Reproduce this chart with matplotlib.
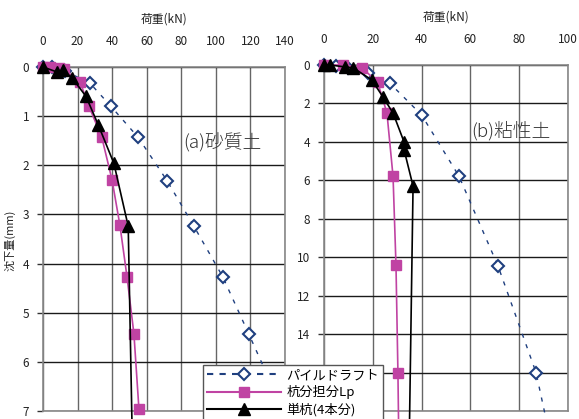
import matplotlib
matplotlib.use("Agg")
import matplotlib.pyplot as plt
from matplotlib.lines import Line2D

plt.rcParams['font.family'] = ['Noto Sans CJK JP', 'DejaVu Sans']

# (a) 砂質土 : load (kN) vs settlement (mm)
sand_raft_load = [0, 5, 12.7, 27.2, 39.3, 55.0, 71.7, 87.3, 104.0, 119.0, 134.0]
sand_raft_set = [0, 0.0, 0.08, 0.33, 0.80, 1.43, 2.31, 3.24, 4.27, 5.43, 6.60]
sand_pile_load = [0, 4, 9, 12, 21.4, 26.6, 34.0, 39.9, 44.5, 48.6, 52.6, 55.5]
sand_pile_set = [0, 0, 0.02, 0.05, 0.30, 0.80, 1.43, 2.29, 3.22, 4.27, 5.43, 6.96]
sand_single_load = [0, 8, 11.6, 16.8, 24.9, 32.0, 41.0, 49.3, 51.5]
sand_single_set = [0, 0.10, 0.07, 0.22, 0.60, 1.18, 1.96, 3.24, 7.30]

# (b) 粘性土
clay_raft_load = [0, 5, 10, 18, 27.0, 40.0, 55.3, 71.3, 86.9, 92.0]
clay_raft_set = [0, 0.05, 0.15, 0.40, 0.95, 2.60, 5.78, 10.45, 16.0, 19.0]
clay_pile_load = [0, 7.8, 15.6, 22.0, 25.8, 28.3, 29.5, 30.3, 30.6]
clay_pile_set = [0, 0, 0.15, 0.90, 2.50, 5.80, 10.40, 16.0, 19.0]
clay_single_load = [0, 2.5, 8.6, 12.0, 19.6, 24.2, 28.3, 32.8, 32.8, 36.5, 35.0]
clay_single_set = [0, 0, 0.10, 0.15, 0.78, 1.67, 2.50, 4.00, 4.40, 6.30, 19.0]

labels = ['パイルドラフト', '杭分担分Lp', '単杭(4本分)']
navy = '#1f3f7f'
magenta = '#c043a3'

W, H = 579, 419
fig = plt.figure(figsize=(W / 100, H / 100), dpi=100)

ax_a = fig.add_axes([43 / W, 1 - 411 / H, 242 / W, 344 / H])
ax_b = fig.add_axes([324 / W, 1 - 411 / H, 244 / W, 346 / H])


def style_axes(ax, xmax, xstep, ymax, ystep, hidden_ylabels=()):
    ax.set_xlim(0, xmax)
    ax.set_ylim(ymax, 0)
    ax.set_xticks(range(0, xmax + 1, xstep))
    yt = list(range(0, ymax + 1, ystep))
    ax.set_yticks(yt)
    ax.set_yticklabels(['' if v in hidden_ylabels else str(v) for v in yt])
    ax.xaxis.tick_top()
    ax.tick_params(axis='x', length=0, labelsize=8.5, pad=14, colors='#222222')
    ax.tick_params(axis='y', length=4, width=1, labelsize=8.5, pad=6,
                   color='#333333', colors='#222222')
    ax.grid(axis='x', color='#666666', linewidth=1.0)
    ax.grid(axis='y', color='#1a1a1a', linewidth=1.0)
    ax.set_axisbelow(True)
    for s in ax.spines.values():
        s.set_color('#888888')
        s.set_linewidth(1.2)
    ax.set_xlabel('荷重(kN)', fontsize=8.5, labelpad=9, color='#222222')
    ax.xaxis.set_label_position('top')


def draw_series(ax, raft_x, raft_y, pile_x, pile_y, single_x, single_y):
    ax.plot(raft_x, raft_y, color=navy, linewidth=1.0, linestyle=(0, (3, 5)),
            marker='D', markersize=6, markerfacecolor='white',
            markeredgecolor=navy, markeredgewidth=1.5, clip_on=False, zorder=3)
    ax.plot(pile_x, pile_y, color=magenta, linewidth=1.2, marker='s',
            markersize=7, markerfacecolor=magenta, markeredgecolor=magenta,
            clip_on=False, zorder=4)
    ax.plot(single_x, single_y, color='black', linewidth=1.2, marker='^',
            markersize=8, markerfacecolor='black', markeredgecolor='black',
            clip_on=False, zorder=5)


style_axes(ax_a, 140, 20, 7, 1)
# the lowest settlement labels of (b) sit under the legend box
style_axes(ax_b, 100, 20, 18, 2, hidden_ylabels=(16, 18))

draw_series(ax_a, sand_raft_load, sand_raft_set, sand_pile_load, sand_pile_set,
            sand_single_load, sand_single_set)
draw_series(ax_b, clay_raft_load, clay_raft_set, clay_pile_load, clay_pile_set,
            clay_single_load, clay_single_set)

ax_a.text(81, 1.55, '(a)砂質土', fontsize=13.5, va='center', ha='left',
          color='#333333', fontweight='light')
ax_b.text(60.5, 3.4, '(b)粘性土', fontsize=13.5, va='center', ha='left',
          color='#333333', fontweight='light')

fig.text(10 / W, 1 - 240 / H, '沈下量(mm)', rotation=90, fontsize=8,
         ha='center', va='center', color='#222222')

handles = [
    Line2D([], [], color=navy, linewidth=1.5, linestyle=(0, (3, 3)), marker='D',
           markersize=6, markerfacecolor='white', markeredgecolor=navy,
           markeredgewidth=1.5),
    Line2D([], [], color=magenta, linewidth=1.5, marker='s', markersize=7,
           markerfacecolor=magenta, markeredgecolor=magenta),
    Line2D([], [], color='black', linewidth=1.5, marker='^', markersize=8,
           markerfacecolor='black', markeredgecolor='black'),
]
leg = fig.legend(handles, labels, loc='upper left',
                 bbox_to_anchor=(203 / W, 1 - 365 / H), fontsize=9.5,
                 frameon=True, fancybox=False, handlelength=5.6,
                 handletextpad=0.4, borderpad=0.3, labelspacing=0.25,
                 borderaxespad=0, framealpha=1)
leg.get_frame().set_edgecolor('#555555')
leg.get_frame().set_linewidth(1.0)
leg.set_zorder(10)

fig.savefig('out.png', dpi=100)
